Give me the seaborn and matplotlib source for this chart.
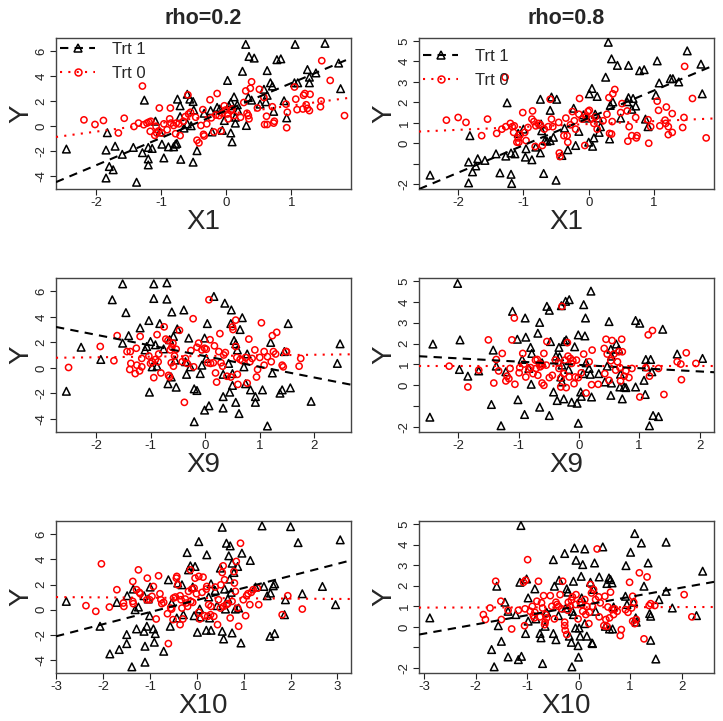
import numpy as np
import pandas as pd
import matplotlib
matplotlib.use('Agg')
import matplotlib.pyplot as plt
from matplotlib.lines import Line2D
import seaborn as sns

# ---------------- data ----------------
# (x, y) pairs per panel, Trt 1 = black triangles, Trt 0 = red circles
r2_x1_trt1 = [(-2.46,-1.84),(-1.83,-0.53),(-1.85,-1.92),(-1.71,-1.61),(-1.80,-3.24),(-1.74,-3.50),(-1.85,-4.16),
    (-1.60,-2.26),(-1.43,-1.71),(-1.38,-4.50),(-1.26,2.08),(-1.29,-2.13),(-1.20,-1.71),(-1.20,-2.63),(-1.20,-3.11),
    (-1.14,-1.79),(-1.09,0.39),(-1.02,-0.47),(-0.99,-1.45),(-0.96,-2.55),(-0.89,-1.66),(-0.81,-1.66),(-0.78,-1.45),
    (-0.76,-1.39),(-0.75,2.16),(-0.71,1.63),(-0.71,0.76),(-0.70,-2.66),(-0.65,-0.16),(-0.60,2.55),(-0.60,0.18),
    (-0.56,2.16),(-0.54,0.03),(-0.51,1.97),(-0.50,1.29),(-0.51,-2.89),(-0.45,-1.97),(-0.34,1.03),(-0.24,1.24),
    (-0.22,-0.47),(-0.14,1.50),(-0.10,1.37),(-0.03,0.45),(-0.06,-0.34),(0.02,3.66),(0.04,1.63),(0.07,1.89),
    (0.07,-0.55),(0.09,-1.26),(0.12,2.34),(0.14,0.71),(0.14,0.24),(0.17,1.71),(0.18,1.24),(0.25,4.39),(0.30,6.55),
    (0.31,0.05),(0.34,2.29),(0.35,5.58),(0.39,2.08),(0.43,5.45),(0.52,1.76),(0.58,2.95),(0.61,1.95),(0.63,4.45),
    (0.63,2.47),(0.68,3.47),(0.71,3.21),(0.73,1.18),(0.78,5.32),(0.84,5.39),(0.89,2.03),(0.93,0.66),(1.05,3.47),
    (1.06,6.55),(1.10,3.47),(1.25,4.53),(1.28,3.92),(1.28,3.47),(1.38,4.26),(1.52,6.63),(1.73,5.05),(1.76,3.00)]
r2_x1_trt0 = [(-2.19,0.50),(-2.02,0.13),(-1.89,0.45),(-1.66,-0.55),(-1.57,0.63),(-1.42,-0.03),(-1.35,0.24),
    (-1.29,3.21),(-1.27,0.11),(-1.22,0.24),(-1.19,0.32),(-1.16,0.39),(-1.17,-0.42),(-1.08,-0.03),(-1.10,-0.74),
    (-1.07,-0.55),(-1.04,-0.39),(-1.03,1.45),(-0.99,-0.55),(-0.96,0.18),(-0.91,-0.29),(-0.87,0.58),(-0.86,1.45),
    (-0.85,0.24),(-0.81,0.05),(-0.78,-0.61),(-0.77,0.24),(-0.73,0.18),(-0.71,-0.76),(-0.66,0.39),(-0.63,0.76),
    (-0.59,2.50),(-0.58,0.97),(-0.55,1.11),(-0.47,0.71),(-0.45,-1.13),(-0.42,-1.34),(-0.39,0.05),(-0.36,1.32),
    (-0.35,-0.66),(-0.34,-0.79),(-0.30,0.18),(-0.25,2.11),(-0.23,0.66),(-0.19,-0.47),(-0.16,0.89),(-0.14,2.61),
    (-0.11,0.84),(-0.08,-0.39),(-0.06,1.03),(-0.03,1.63),(-0.01,1.29),(0.02,0.97),(0.03,0.58),(0.07,1.24),
    (0.09,1.37),(0.12,0.84),(0.22,0.71),(0.27,1.89),(0.30,2.82),(0.32,1.03),(0.34,0.84),(0.35,0.58),(0.37,3.03),
    (0.39,3.55),(0.48,1.45),(0.51,2.95),(0.58,2.29),(0.59,0.13),(0.62,0.79),(0.63,0.13),(0.71,1.55),(0.74,0.39),
    (0.73,0.24),(0.92,1.76),(0.93,-0.13),(0.94,1.11),(1.05,3.13),(1.07,2.16),(1.09,1.32),(1.18,1.37),(1.19,2.47),
    (1.21,2.61),(1.23,1.71),(1.25,1.42),(1.28,1.24),(1.29,2.55),(1.45,1.55),(1.47,5.24),(1.46,2.03),(1.60,3.66),
    (1.82,0.84)]

r8_x1_trt1 = [(-2.43,-1.56),(-1.82,0.37),(-1.84,-0.92),(-1.70,-0.76),(-1.78,-1.40),(-1.73,-1.11),(-1.84,-1.94),
    (-1.59,-0.84),(-1.42,-0.52),(-1.36,-1.45),(-1.25,1.98),(-1.27,-0.63),(-1.19,-0.48),(-1.19,-1.52),(-1.18,-1.97),
    (-1.13,-0.52),(-1.08,0.48),(-1.00,0.69),(-0.96,-0.27),(-0.97,-0.68),(-0.87,-0.81),(-0.81,-0.19),(-0.74,2.15),
    (-0.73,0.94),(-0.72,0.61),(-0.74,-0.47),(-0.69,-1.48),(-0.67,0.13),(-0.64,0.10),(-0.59,1.61),(-0.57,2.26),
    (-0.59,0.13),(-0.54,0.29),(-0.49,2.15),(-0.50,-1.81),(-0.41,-0.60),(-0.37,0.74),(-0.32,-0.32),(-0.23,1.71),
    (-0.20,-0.11),(-0.15,0.58),(-0.08,1.39),(-0.03,1.23),(0.00,0.05),(0.01,2.42),(0.05,2.68),(0.06,-0.15),
    (0.08,0.26),(0.10,1.42),(0.13,2.29),(0.15,1.23),(0.16,0.53),(0.18,0.81),(0.26,3.23),(0.30,4.94),(0.32,0.21),
    (0.33,1.85),(0.35,4.13),(0.37,2.02),(0.44,3.81),(0.49,1.23),(0.59,2.03),(0.61,3.81),(0.61,2.23),(0.68,2.19),
    (0.66,1.66),(0.72,1.82),(0.78,3.55),(0.85,3.60),(0.87,1.18),(0.91,0.81),(1.03,2.35),(1.05,4.03),(1.08,2.95),
    (1.25,3.16),(1.29,3.16),(1.38,3.00),(1.51,4.52),(1.72,3.87),(1.74,2.42)]
r8_x1_trt0 = [(-2.18,1.13),(-2.00,1.26),(-1.88,1.02),(-1.64,0.37),(-1.55,1.18),(-1.41,0.48),(-1.33,0.69),
    (-1.28,3.23),(-1.27,0.81),(-1.20,0.97),(-1.17,0.81),(-1.15,0.53),(-1.14,0.85),(-1.10,0.05),(-1.08,0.26),
    (-1.07,0.05),(-1.05,0.42),(-1.01,1.50),(-0.98,0.53),(-0.96,0.13),(-0.93,0.77),(-0.87,1.18),(-0.86,1.58),
    (-0.84,1.06),(-0.81,0.85),(-0.82,-0.16),(-0.77,0.97),(-0.74,0.90),(-0.71,-0.11),(-0.68,0.69),(-0.62,0.81),
    (-0.59,2.15),(-0.57,1.18),(-0.55,0.81),(-0.46,1.02),(-0.45,-0.48),(-0.44,-0.65),(-0.38,0.37),(-0.35,1.23),
    (-0.33,0.37),(-0.32,0.05),(-0.28,0.90),(-0.25,1.55),(-0.22,1.10),(-0.20,0.69),(-0.15,1.42),(-0.14,2.19),
    (-0.10,1.18),(-0.06,-0.11),(-0.04,1.29),(-0.01,1.55),(0.01,1.61),(0.04,1.18),(0.08,0.97),(0.10,1.29),
    (0.13,0.69),(0.22,1.10),(0.28,1.42),(0.31,2.23),(0.32,0.48),(0.35,0.45),(0.36,1.06),(0.37,2.42),(0.40,2.63),
    (0.49,1.50),(0.51,1.94),(0.59,1.58),(0.60,0.10),(0.62,0.81),(0.66,0.37),(0.72,1.26),(0.74,0.37),(0.73,0.26),
    (0.91,1.15),(0.92,0.00),(0.95,0.81),(1.05,2.06),(1.07,1.61),(1.09,0.85),(1.17,1.13),(1.18,0.97),(1.19,1.77),
    (1.22,0.81),(1.22,0.42),(1.28,1.45),(1.28,0.53),(1.46,1.26),(1.44,0.77),(1.47,3.76),(1.59,2.19),(1.80,0.26)]

r2_x9_trt1 = [(-2.54,-1.84),(-2.27,1.62),(-1.91,0.66),(-1.70,5.35),(-1.51,1.94),(-1.51,6.60),(-1.45,4.34),
    (-1.40,2.53),(-1.19,3.14),(-1.10,1.41),(-1.07,1.68),(-1.03,3.72),(-1.02,-1.91),(-1.00,2.07),(-0.97,0.08),
    (-0.94,6.60),(-0.94,5.45),(-0.91,1.81),(-0.88,0.13),(-0.83,3.48),(-0.76,1.49),(-0.70,6.68),(-0.70,5.40),
    (-0.68,-1.25),(-0.65,2.21),(-0.62,-0.72),(-0.61,4.39),(-0.58,2.47),(-0.55,0.61),(-0.53,-1.52),(-0.51,3.06),
    (-0.39,4.55),(-0.36,0.48),(-0.34,-0.51),(-0.30,2.34),(-0.27,0.08),(-0.20,-1.65),(-0.20,-4.23),(-0.15,-1.78),
    (-0.09,-0.45),(-0.06,0.21),(-0.01,-3.32),(-0.01,2.34),(0.02,0.74),(0.04,3.48),(0.07,-2.98),(0.16,5.61),
    (0.36,5.08),(0.33,-2.26),(0.33,-3.16),(0.33,-0.51),(0.43,0.35),(0.45,-1.91),(0.47,3.48),(0.48,4.55),
    (0.50,-1.38),(0.50,-0.45),(0.53,2.15),(0.56,1.89),(0.56,-2.71),(0.59,1.41),(0.62,-3.59),(0.64,3.01),
    (0.68,3.94),(0.71,0.08),(0.74,-1.25),(0.77,1.09),(0.83,-1.73),(0.92,-2.26),(0.92,-2.71),(1.05,-1.73),
    (1.14,-4.57),(1.20,2.00),(1.23,-0.40),(1.37,-1.99),(1.41,-1.73),(1.45,1.28),(1.52,3.48),(1.56,-1.57),
    (1.94,-2.63),(2.42,0.35),(2.47,1.89)]
r2_x9_trt0 = [(-2.50,0.03),(-1.92,1.68),(-1.67,0.56),(-1.61,2.53),(-1.43,1.28),(-1.38,-0.13),(-1.37,1.28),
    (-1.36,0.35),(-1.28,-0.45),(-1.26,1.54),(-1.25,0.21),(-1.20,-0.24),(-1.19,2.47),(-1.16,0.74),(-1.16,0.08),
    (-1.03,0.93),(-1.00,0.35),(-0.97,0.48),(-0.94,-0.77),(-0.91,0.66),(-0.88,2.61),(-0.86,0.48),(-0.85,1.09),
    (-0.81,-0.40),(-0.75,3.22),(-0.72,2.26),(-0.68,2.15),(-0.67,-0.59),(-0.65,-0.72),(-0.64,1.41),(-0.62,0.40),
    (-0.61,1.62),(-0.59,1.94),(-0.58,0.13),(-0.56,0.93),(-0.53,1.46),(-0.47,2.95),(-0.42,0.48),(-0.38,-2.71),
    (-0.36,0.74),(-0.33,0.35),(-0.26,1.36),(-0.22,3.86),(-0.21,0.08),(-0.15,1.62),(-0.12,1.94),(-0.06,1.41),
    (-0.01,1.54),(0.02,1.46),(0.05,0.40),(0.07,5.35),(0.09,2.21),(0.10,0.35),(0.15,0.40),(0.17,1.73),
    (0.19,-0.40),(0.21,-1.12),(0.25,1.28),(0.27,2.69),(0.29,0.40),(0.32,0.13),(0.34,1.01),(0.37,1.20),
    (0.40,-0.66),(0.47,-0.72),(0.50,3.22),(0.51,3.01),(0.56,3.75),(0.56,1.68),(0.58,0.82),(0.59,-0.51),
    (0.60,-1.30),(0.64,0.66),(0.68,0.56),(0.74,0.82),(0.77,-1.20),(0.80,2.26),(0.82,0.48),(0.86,0.74),
    (0.91,1.41),(0.94,-0.72),(0.96,-0.13),(1.00,0.82),(1.03,3.54),(1.08,1.28),(1.08,0.21),(1.14,0.88),
    (1.21,0.48),(1.23,2.53),(1.25,1.28),(1.29,1.09),(1.31,2.79),(1.41,0.21),(1.43,0.08),(1.48,1.28),
    (1.49,1.28),(1.72,0.13),(1.75,0.74)]

r8_x9_trt1 = [(-2.47,-1.53),(-2.42,1.98),(-2.01,4.89),(-1.98,0.76),(-1.97,2.18),(-1.84,0.44),(-1.66,0.69),
    (-1.45,-0.92),(-1.42,1.69),(-1.37,0.92),(-1.29,-1.94),(-1.21,0.65),(-1.10,3.55),(-1.02,2.21),(-1.01,-0.69),
    (-0.94,1.24),(-0.90,-1.40),(-0.89,3.23),(-0.88,2.31),(-0.83,0.81),(-0.80,1.82),(-0.79,0.05),(-0.78,1.53),
    (-0.68,2.50),(-0.65,3.02),(-0.65,-1.05),(-0.61,1.08),(-0.53,3.79),(-0.49,3.60),(-0.47,2.10),(-0.49,-1.45),
    (-0.42,-0.32),(-0.38,1.40),(-0.36,-0.73),(-0.33,1.82),(-0.32,1.37),(-0.30,0.40),(-0.29,3.82),(-0.28,0.97),
    (-0.28,0.16),(-0.25,-0.65),(-0.24,2.10),(-0.22,4.03),(-0.21,2.18),(-0.17,0.76),(-0.16,4.11),(-0.12,-0.81),
    (-0.07,1.85),(-0.03,-0.86),(-0.01,2.42),(-0.01,-1.82),(0.03,-0.32),(0.04,-0.53),(0.07,0.56),(0.08,3.87),
    (0.10,2.37),(0.11,3.23),(0.12,1.08),(0.17,0.81),(0.19,0.53),(0.20,4.52),(0.21,-0.56),(0.33,0.56),
    (0.43,0.16),(0.47,0.92),(0.50,3.06),(0.53,1.73),(0.53,-0.48),(0.54,0.11),(0.54,1.40),(0.62,1.98),
    (0.66,1.73),(0.68,-0.08),(0.69,0.53),(0.72,-0.65),(0.75,-0.08),(0.78,-0.11),(0.94,-0.08),(0.94,3.11),
    (1.01,2.98),(1.08,0.24),(1.10,-0.44),(1.11,1.24),(1.12,0.89),(1.17,-1.94),(1.19,1.24),(1.21,0.65),
    (1.23,-1.45),(1.32,-1.50),(1.39,2.69),(1.63,1.50),(2.05,1.29)]
r8_x9_trt0 = [(-2.15,0.92),(-1.84,-0.08),(-1.66,0.73),(-1.50,2.18),(-1.41,0.11),(-1.37,1.24),(-1.33,0.69),
    (-1.27,1.53),(-1.21,0.21),(-1.19,0.44),(-1.16,0.32),(-1.14,0.81),(-1.11,2.18),(-1.07,3.23),(-1.06,0.05),
    (-0.99,0.60),(-0.98,0.85),(-0.93,1.53),(-0.91,1.02),(-0.88,0.40),(-0.83,0.76),(-0.80,0.85),(-0.76,0.56),
    (-0.72,1.21),(-0.71,0.81),(-0.69,1.24),(-0.68,0.48),(-0.65,1.05),(-0.64,0.89),(-0.61,0.97),(-0.58,1.53),
    (-0.61,0.11),(-0.58,0.00),(-0.54,0.97),(-0.53,2.10),(-0.49,0.37),(-0.44,0.48),(-0.39,1.21),(-0.34,1.08),
    (-0.33,0.81),(-0.30,-0.08),(-0.30,0.35),(-0.28,3.79),(-0.25,0.56),(-0.23,1.21),(-0.21,-0.11),(-0.19,2.05),
    (-0.18,1.40),(-0.16,0.40),(-0.14,1.29),(-0.12,1.05),(-0.10,1.18),(-0.08,0.08),(-0.06,0.40),(-0.04,1.21),
    (-0.01,0.37),(0.04,0.60),(0.08,1.50),(0.12,-0.37),(0.17,1.13),(0.21,0.03),(0.22,1.69),(0.32,0.05),
    (0.42,1.77),(0.43,0.56),(0.45,2.21),(0.47,1.50),(0.50,0.24),(0.53,1.18),(0.55,2.15),(0.58,1.50),
    (0.61,0.73),(0.64,1.13),(0.66,1.61),(0.68,0.85),(0.69,0.21),(0.71,2.21),(0.72,1.61),(0.75,0.44),
    (0.78,0.69),(0.83,0.37),(0.88,0.81),(1.01,-0.56),(1.11,0.85),(1.15,2.42),(1.17,0.44),(1.22,2.63),
    (1.32,0.81),(1.41,-0.44),(1.63,1.13),(1.69,1.02),(1.70,0.27),(1.78,1.56),(1.94,1.05)]

r2_x10_trt1 = [(-2.79,0.66),(-2.07,-1.32),(-1.86,-3.52),(-1.71,0.58),(-1.66,-3.17),(-1.50,-1.98),(-1.50,-2.70),
    (-1.49,1.11),(-1.39,-4.55),(-1.36,1.64),(-1.32,0.00),(-1.29,-1.53),(-1.25,0.21),(-1.13,1.11),(-1.13,-1.72),
    (-1.11,-2.91),(-1.11,-4.18),(-1.07,-1.32),(-1.04,0.85),(-1.01,-0.48),(-1.00,1.80),(-0.93,-1.53),(-0.89,-1.90),
    (-0.91,-2.59),(-0.71,-3.31),(-0.61,2.38),(-0.57,-1.32),(-0.54,0.53),(-0.43,-0.66),(-0.41,2.12),(-0.32,1.98),
    (-0.29,-0.40),(-0.21,4.55),(-0.18,3.17),(-0.14,3.49),(-0.09,1.80),(-0.06,-0.48),(-0.04,3.44),(0.01,-1.80),
    (0.04,5.42),(0.06,0.05),(0.07,-0.58),(0.20,-1.64),(0.21,4.37),(0.25,1.01),(0.27,-0.66),(0.30,2.06),
    (0.30,-1.64),(0.39,1.53),(0.43,0.32),(0.50,3.31),(0.54,6.56),(0.54,-1.72),(0.57,-2.33),(0.59,1.64),
    (0.61,0.05),(0.63,5.29),(0.66,0.85),(0.68,4.29),(0.70,2.43),(0.71,5.08),(0.73,1.38),(0.75,3.70),
    (0.75,-1.85),(0.79,2.96),(0.82,0.05),(0.87,3.44),(0.89,0.13),(0.94,-2.65),(0.96,4.50),(1.14,3.92),
    (1.25,1.80),(1.39,6.67),(1.43,1.85),(1.50,1.11),(1.56,-2.12),(1.57,1.32),(1.63,1.90),(1.66,-1.90),
    (1.66,2.06),(1.87,-0.40),(1.89,0.79),(2.00,6.61),(2.16,5.34),(2.25,1.27),(2.68,1.85),(2.96,0.40),(3.06,5.56)]
r2_x10_trt0 = [(-2.37,0.32),(-2.16,-0.13),(-2.04,3.65),(-1.87,0.21),(-1.71,1.59),(-1.57,0.53),(-1.56,0.26),
    (-1.37,2.25),(-1.37,0.66),(-1.36,0.48),(-1.29,1.59),(-1.25,3.17),(-1.23,1.38),(-1.21,1.27),(-1.07,0.79),
    (-1.06,2.51),(-1.01,0.79),(-0.96,1.06),(-0.93,1.85),(-0.87,-0.74),(-0.82,2.70),(-0.79,1.27),(-0.77,0.79),
    (-0.75,0.48),(-0.71,0.58),(-0.63,-0.32),(-0.61,-2.70),(-0.56,0.13),(-0.54,0.05),(-0.51,-0.79),(-0.50,0.93),
    (-0.46,1.01),(-0.44,2.51),(-0.43,2.65),(-0.41,1.98),(-0.36,-1.19),(-0.36,1.11),(-0.34,0.79),(-0.32,0.13),
    (-0.30,-0.74),(-0.25,0.85),(-0.23,0.53),(-0.20,0.26),(-0.18,1.46),(-0.14,3.17),(-0.13,0.66),(-0.11,1.64),
    (-0.09,0.58),(-0.06,1.72),(-0.04,2.51),(-0.01,1.27),(0.04,2.65),(0.04,-0.21),(0.06,-0.74),(0.11,1.38),
    (0.13,2.59),(0.16,-0.48),(0.20,1.64),(0.21,1.85),(0.23,-0.53),(0.25,0.40),(0.29,-0.40),(0.30,0.26),
    (0.36,-0.53),(0.39,1.80),(0.44,-1.19),(0.46,0.79),(0.50,0.13),(0.51,1.98),(0.54,2.96),(0.56,3.49),
    (0.57,0.26),(0.59,2.38),(0.63,0.40),(0.66,0.48),(0.71,-0.66),(0.75,0.66),(0.79,3.04),(0.80,2.12),
    (0.82,1.46),(0.84,3.84),(0.87,0.13),(0.89,-1.32),(0.93,5.29),(0.99,0.79),(1.04,-0.48),(1.06,1.11),
    (1.09,1.27),(1.13,0.40),(1.16,1.38),(1.20,1.59),(1.29,1.72),(1.32,0.40),(1.82,-0.40),(1.94,1.11),(2.25,0.05)]

r8_x10_trt1 = [(-2.89,0.44),(-1.69,-1.10),(-1.64,-1.94),(-1.59,1.98),(-1.56,0.06),(-1.50,-0.70),(-1.43,1.20),
    (-1.37,-1.46),(-1.37,0.76),(-1.22,0.60),(-1.17,-1.59),(-1.14,2.17),(-1.12,4.93),(-1.11,-1.43),(-1.03,-0.32),
    (-1.01,2.33),(-0.98,1.41),(-0.98,0.28),(-0.85,1.85),(-0.83,0.39),(-0.75,-0.32),(-0.73,-0.53),(-0.70,-1.78),
    (-0.65,0.03),(-0.62,0.71),(-0.49,3.27),(-0.49,-0.32),(-0.47,1.98),(-0.44,-0.62),(-0.39,0.55),(-0.38,2.27),
    (-0.27,3.57),(-0.25,0.92),(-0.23,1.85),(-0.21,1.69),(-0.18,-0.45),(-0.14,-0.75),(-0.13,-1.94),(-0.12,0.76),
    (-0.10,0.60),(-0.10,2.22),(-0.08,3.84),(-0.06,-0.05),(-0.05,3.24),(-0.01,-0.91),(0.00,-1.47),(0.01,-0.05),
    (0.03,-0.45),(0.05,2.46),(0.06,1.41),(0.08,3.03),(0.12,0.16),(0.12,3.79),(0.16,-0.45),(0.23,2.17),
    (0.26,-0.78),(0.27,-0.81),(0.29,1.82),(0.31,3.11),(0.33,0.76),(0.40,2.43),(0.47,3.89),(0.52,0.03),
    (0.55,2.11),(0.59,2.38),(0.60,-0.10),(0.62,2.30),(0.65,2.14),(0.66,-0.10),(0.68,0.97),(0.91,1.49),
    (0.92,2.98),(0.94,1.09),(1.01,3.63),(1.07,1.20),(1.09,4.54),(1.11,0.44),(1.12,0.23),(1.22,4.08),
    (1.27,1.98),(1.35,3.11),(1.38,0.65),(1.40,0.52),(1.40,-0.65),(1.50,-1.56),(1.56,1.33),(1.70,4.12),
    (1.70,1.73),(1.82,0.92),(2.29,0.55),(2.41,2.71)]
r8_x10_trt0 = [(-1.85,0.60),(-1.81,0.36),(-1.72,0.92),(-1.61,2.22),(-1.51,1.25),(-1.50,0.36),(-1.37,0.81),
    (-1.30,-0.10),(-1.17,0.81),(-1.07,2.17),(-1.05,0.06),(-1.04,0.88),(-1.03,2.27),(-0.99,3.27),(-0.94,0.76),
    (-0.90,1.00),(-0.88,0.55),(-0.86,0.44),(-0.85,0.71),(-0.81,1.25),(-0.78,2.22),(-0.75,0.49),(-0.72,1.17),
    (-0.70,0.92),(-0.68,1.52),(-0.66,0.11),(-0.65,0.23),(-0.64,0.60),(-0.62,0.44),(-0.55,1.52),(-0.52,1.00),
    (-0.47,0.39),(-0.44,1.20),(-0.42,1.09),(-0.39,1.00),(-0.36,1.57),(-0.33,0.88),(-0.31,2.22),(-0.27,0.23),
    (-0.27,0.06),(-0.26,-0.16),(-0.23,-0.37),(-0.21,0.81),(-0.20,1.20),(-0.16,1.00),(-0.14,1.30),(-0.12,1.46),
    (-0.06,1.09),(-0.05,1.57),(-0.01,0.39),(0.03,1.20),(0.06,1.09),(0.08,0.76),(0.12,1.33),(0.14,0.60),
    (0.16,1.00),(0.20,0.16),(0.21,0.71),(0.23,2.06),(0.25,1.65),(0.27,1.00),(0.29,1.82),(0.33,1.33),
    (0.36,3.79),(0.39,1.46),(0.40,0.49),(0.42,1.17),(0.49,0.06),(0.51,1.49),(0.53,0.36),(0.55,0.03),
    (0.57,0.97),(0.60,0.44),(0.62,1.69),(0.65,0.84),(0.68,0.60),(0.70,0.88),(0.75,0.76),(0.81,-0.42),
    (0.83,-0.13),(0.91,0.84),(0.96,0.71),(0.99,2.17),(1.03,0.92),(1.05,1.49),(1.05,0.28),(1.07,1.20),
    (1.09,0.16),(1.12,0.36),(1.18,2.63),(1.27,-0.58),(1.33,2.43),(1.37,1.04),(1.40,1.13),(1.48,1.04),
    (2.05,1.57),(2.20,0.49)]

# fitted lines: (intercept, slope) for Trt 1 and Trt 0
line_trt1 = {'r2_x1': (1.25, 2.19), 'r8_x1': (1.24, 1.34),
             'r2_x9': (0.92, -0.84), 'r8_x9': (0.98, -0.157),
             'r2_x10': (0.77, 0.96), 'r8_x10': (1.015, 0.447)}
line_trt0 = {'r2_x1': (0.95, 0.695), 'r8_x1': (0.94, 0.142),
             'r2_x9': (0.93, 0.05), 'r8_x9': (0.94, 0.0),
             'r2_x10': (0.93, -0.024), 'r8_x10': (0.955, 0.005)}

panels = [
    ('r2_x1', 'X1', r2_x1_trt1, r2_x1_trt0),
    ('r8_x1', 'X1', r8_x1_trt1, r8_x1_trt0),
    ('r2_x9', 'X9', r2_x9_trt1, r2_x9_trt0),
    ('r8_x9', 'X9', r8_x9_trt1, r8_x9_trt0),
    ('r2_x10', 'X10', r2_x10_trt1, r2_x10_trt0),
    ('r8_x10', 'X10', r8_x10_trt1, r8_x10_trt0),
]

xlims = {'r2_x1': (-2.62, 1.92), 'r8_x1': (-2.60, 1.92),
         'r2_x9': (-2.73, 2.67), 'r8_x9': (-2.65, 2.24),
         'r2_x10': (-3.01, 3.29), 'r8_x10': (-3.10, 2.63)}
xticks = {'r2_x1': [-2, -1, 0, 1], 'r8_x1': [-2, -1, 0, 1],
          'r2_x9': [-2, -1, 0, 1, 2], 'r8_x9': [-2, -1, 0, 1, 2],
          'r2_x10': [-3, -2, -1, 0, 1, 2, 3], 'r8_x10': [-3, -2, -1, 0, 1, 2]}

# ---------------- style ----------------
sns.set_style('white')
plt.rcParams['font.family'] = ['Liberation Sans', 'DejaVu Sans']
plt.rcParams['axes.unicode_minus'] = False

fig = plt.figure(figsize=(7.23, 7.21), dpi=100)

col_left = [56 / 723, 419 / 723]
col_w = 295 / 723
rows = [(38, 189), (278, 432), (521, 673)]

dash = (0, (4, 3))
dot = (0, (1, 3))

for i, (key, xlab, t1, t0) in enumerate(panels):
    r, c = divmod(i, 2)
    top, bot = rows[r]
    ax = fig.add_axes([col_left[c], 1 - bot / 721, col_w, (bot - top) / 721])

    d1 = pd.DataFrame(t1, columns=['x', 'y'])
    d0 = pd.DataFrame(t0, columns=['x', 'y'])

    sns.scatterplot(data=d1, x='x', y='y', ax=ax, marker='^', s=30,
                    color='black', edgecolor='black', facecolor='none', linewidth=1.1, zorder=3)
    sns.scatterplot(data=d0, x='x', y='y', ax=ax, marker='o', s=20,
                    color='red', edgecolor='red', facecolor='none', linewidth=1.1, zorder=4)

    b1, m1 = line_trt1[key]
    b0, m0 = line_trt0[key]
    ax.axline((0, b1), slope=m1, color='black', lw=1.5, ls=dash, zorder=5)
    ax.axline((0, b0), slope=m0, color='red', lw=1.5, ls=dot, zorder=5)

    ax.set_xlim(*xlims[key])
    ax.set_xticks(xticks[key])
    if c == 0:
        ax.set_ylim(-5.04, 7.06)
        ax.set_yticks([-4, -2, 0, 2, 4, 6])
    else:
        ax.set_ylim(-2.24, 5.15)
        ax.set_yticks([-2, -1, 0, 1, 2, 3, 4, 5])
        ax.set_yticklabels(['-2', '', '0', '1', '2', '3', '4', '5'])

    ax.tick_params(direction='out', length=4, width=0.8, labelsize=9.5, pad=2,
                   left=True, bottom=True, colors='#222222')
    for lab in ax.get_yticklabels():
        lab.set_rotation(90)
        lab.set_va('center')
    for sp in ax.spines.values():
        sp.set_color('#444444')
        sp.set_linewidth(1.0)

    ax.set_xlabel(xlab, fontsize=20, labelpad=0)
    ax.set_ylabel('Y', fontsize=20, labelpad=1, rotation=90)

    if r == 0:
        ax.set_title('rho=0.2' if c == 0 else 'rho=0.8', fontsize=15.5,
                     fontweight='bold', pad=10)
        handles = [
            Line2D([], [], color='black', ls=dash, lw=1.5, marker='^', ms=6,
                   mfc='none', mec='black', mew=1.1),
            Line2D([], [], color='red', ls=dot, lw=1.5, marker='o', ms=5,
                   mfc='none', mec='red', mew=1.1),
        ]
        # the right legend sits a little lower in the original
        anchor_y = 1.0 if c == 0 else 1.0 - 7 / 151
        ax.legend(handles, ['Trt 1', 'Trt 0'], loc='upper left', frameon=False,
                  bbox_to_anchor=(0, anchor_y),
                  fontsize=12, handlelength=2.1, borderaxespad=0.05, borderpad=0.2,
                  handletextpad=1.0, labelspacing=0.5)

fig.savefig('out.png', dpi=100)
